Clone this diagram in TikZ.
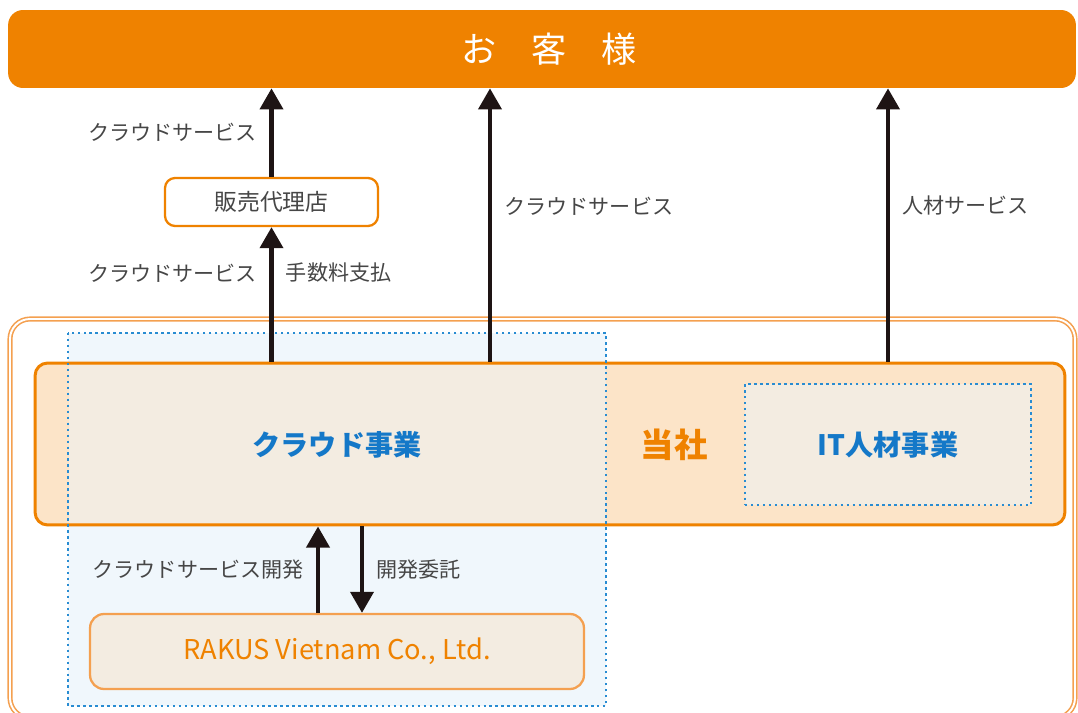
\documentclass[tikz,border=0pt]{standalone}
\usepackage{fontspec}
\setmainfont{Noto Sans CJK JP}
\usepackage{tikz}
\usetikzlibrary{arrows.meta}
\definecolor{ora}{RGB}{239,130,0}
\definecolor{oralight}{RGB}{244,160,80}
\definecolor{peach}{RGB}{252,228,200}
\definecolor{beige}{RGB}{243,236,225}
\definecolor{skyfill}{RGB}{240,247,252}
\definecolor{bluedot}{RGB}{40,140,210}
\definecolor{bluetext}{RGB}{20,120,200}
\definecolor{graytext}{RGB}{70,70,70}
\definecolor{arrowblack}{RGB}{30,20,20}
\tikzstyle{customerbar} = [rectangle, rounded corners=0.3cm, fill=ora, text=white, minimum width=21.36cm, minimum height=1.56cm, font=\fontsize{20}{24}\selectfont]
\tikzstyle{agent} = [rectangle, rounded corners=0.2cm, draw=ora, line width=1.3pt, fill=white, text=graytext, minimum width=4.26cm, minimum height=0.96cm, font=\fontsize{13}{15}\selectfont]
\tikzstyle{company} = [rectangle, rounded corners=0.25cm, draw=ora, line width=1.7pt, fill=peach, minimum width=20.6cm, minimum height=3.24cm]
\tikzstyle{division} = [rectangle, draw=bluedot, line width=1.4pt, dash pattern=on 1.4pt off 2pt, fill=beige, minimum width=5.72cm, minimum height=2.42cm, text=bluetext, font=\fontsize{16}{19}\selectfont\bfseries]
\tikzstyle{subsidiary} = [rectangle, rounded corners=0.28cm, draw=oralight, line width=1.3pt, fill=beige, text=ora, minimum width=9.88cm, minimum height=1.5cm, font=\fontsize{15.5}{18}\selectfont]
\tikzstyle{flowlabel} = [text=graytext, inner sep=7pt, font=\fontsize{12}{14}\selectfont]
\tikzstyle{arrow} = [arrowblack, line width=2.5pt, -{Triangle[width=13pt,length=12pt]}]
\tikzstyle{dotframe} = [draw=bluedot, line width=1.4pt, dash pattern=on 1.4pt off 2pt]

\begin{document}
\begin{tikzpicture}[x=0.02cm, y=-0.02cm]
\clip (0,0) rectangle (1078,713);

\node (okyaku) [customerbar] at (542,49) {\hspace{8pt}お\hspace{1em}客\hspace{1em}様};

\draw [oralight, line width=0.9pt, double=white, double distance=1.1pt, rounded corners=0.4cm] (10,319) rectangle (1075,718);

\fill [skyfill] (68,333) rectangle (606,706);
\node (tosha) [company] at (550,444) {};
\fill [beige] (69,365) rectangle (606,523);
\draw [dotframe] (68,333) rectangle (606,706);

\node (cloud) [text=bluetext, font=\fontsize{16}{19}\selectfont\bfseries] at (337,445) {クラウド事業};
\node (tosha_label) [text=ora, font=\fontsize{19}{22}\selectfont\bfseries] at (674,445) {当社};
\node (itjigyo) [division] at (888,444.5) {IT人材事業};

\node (dairiten) [agent] at (271.5,202) {販売代理店};
\node (rakus) [subsidiary] at (337,651.5) {RAKUS Vietnam Co., Ltd.};

\coordinate (mid_x) at (490,0);
\coordinate (up_x) at (318,0);
\coordinate (down_x) at (362,0);

\draw [arrow] (dairiten.north) -- node [flowlabel, left] {クラウドサービス} (dairiten.north |- okyaku.south);
\draw [arrow] (dairiten.south |- tosha.north) -- node [flowlabel, left, pos=0.66] {クラウドサービス} node [flowlabel, right, pos=0.66] {手数料支払} (dairiten.south);
\draw [arrow] (mid_x |- tosha.north) -- node [flowlabel, right, pos=0.57] {クラウドサービス} (mid_x |- okyaku.south);
\draw [arrow] (itjigyo.north |- tosha.north) -- node [flowlabel, right, pos=0.57] {人材サービス} (itjigyo.north |- okyaku.south);

\draw [arrow] (up_x |- rakus.north) -- node [flowlabel, left] {クラウドサービス開発} (up_x |- tosha.south);
\draw [arrow] (down_x |- tosha.south) -- node [flowlabel, right] {開発委託} (down_x |- rakus.north);

\end{tikzpicture}
\end{document}
